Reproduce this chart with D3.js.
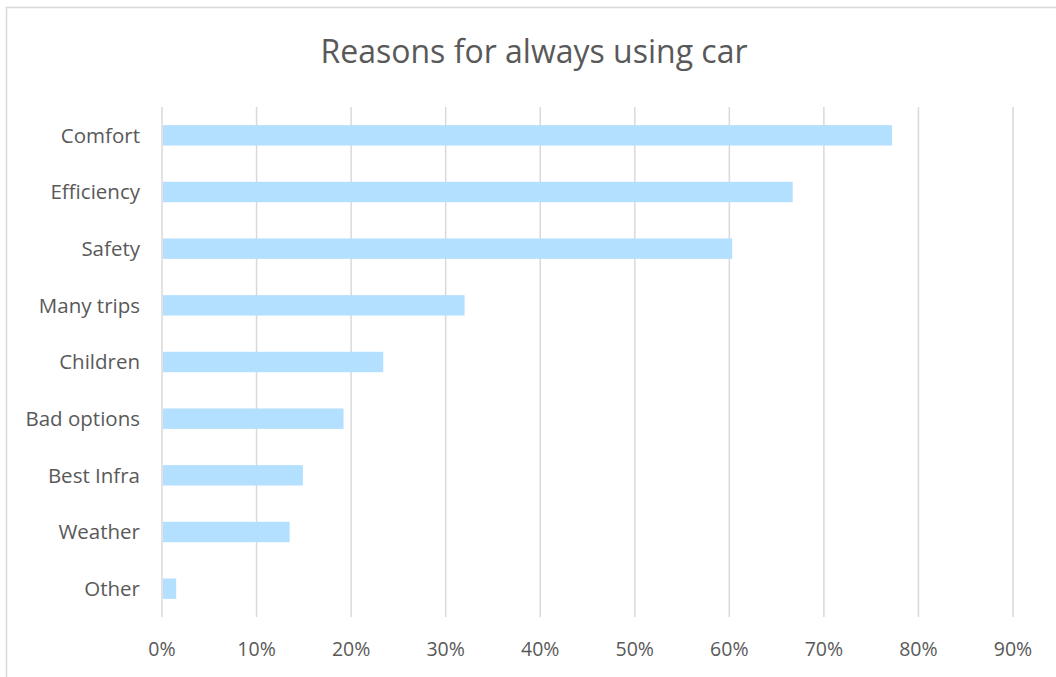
<!DOCTYPE html>
<head>
  <meta charset="utf-8">
  <script src="https://d3js.org/d3.v7.min.js"></script>
  <style>
    body { margin:0; background:#fff; }
    text { font-family: "Open Sans", "Noto Sans", sans-serif; fill:#595959; }
  </style>
</head>
<body>
  <script>
    var categories = ["Comfort", "Efficiency", "Safety", "Many trips", "Children",
                      "Bad options", "Best Infra", "Weather", "Other"];
    var values = [0.772, 0.667, 0.603, 0.32, 0.234, 0.192, 0.149, 0.135, 0.015];
    var ticks = [0, 0.1, 0.2, 0.3, 0.4, 0.5, 0.6, 0.7, 0.8, 0.9];

    var width = 1056, height = 677;
    var margin = {top: 107, right: 43, bottom: 60, left: 162};

    var svg = d3.select("body").append("svg")
      .attr("width", width)
      .attr("height", height);

    // chart frame
    svg.append("rect")
      .attr("x", 6.5).attr("y", 7.5)
      .attr("width", 1100).attr("height", 700)
      .style("fill", "none")
      .style("stroke", "#d9d9d9")
      .style("stroke-width", 1.5);

    var x = d3.scaleLinear()
      .domain([0, 0.9])
      .range([margin.left, width - margin.right]);

    var y = d3.scaleBand()
      .domain(categories)
      .range([margin.top, height - margin.bottom])
      .paddingInner(0.64)
      .paddingOuter(0.32);

    // gridlines
    svg.selectAll("line.grid").data(ticks).enter()
      .append("line")
      .attr("class", "grid")
      .attr("x1", function(d) { return x(d); })
      .attr("x2", function(d) { return x(d); })
      .attr("y1", margin.top)
      .attr("y2", height - margin.bottom)
      .style("stroke", "#d9d9d9")
      .style("stroke-width", 1.5);

    svg.selectAll("rect.bar").data(values).enter()
      .append("rect")
      .attr("class", "bar")
      .attr("x", x(0) + 1)
      .attr("y", function(d, i) { return y(categories[i]); })
      .attr("width", function(d) { return x(d) - x(0) - 1; })
      .attr("height", y.bandwidth())
      .style("fill", "#b3e0ff");

    // category labels
    svg.selectAll("text.cat").data(categories).enter()
      .append("text")
      .attr("class", "cat")
      .attr("x", margin.left - 22)
      .attr("y", function(d) { return y(d) + y.bandwidth() / 2; })
      .attr("dy", "0.35em")
      .attr("text-anchor", "end")
      .style("font-size", "20.5px")
      .text(function(d) { return d; });

    // tick labels
    svg.selectAll("text.tick").data(ticks).enter()
      .append("text")
      .attr("class", "tick")
      .attr("x", function(d) { return x(d); })
      .attr("y", 649)
      .attr("dy", "0.35em")
      .attr("text-anchor", "middle")
      .style("font-size", "19.5px")
      .text(d3.format(".0%"));

    svg.append("text")
      .attr("x", 534)
      .attr("y", 52)
      .attr("dy", "0.35em")
      .attr("text-anchor", "middle")
      .style("font-size", "32px")
      .text("Reasons for always using car");
  </script>
</body>
